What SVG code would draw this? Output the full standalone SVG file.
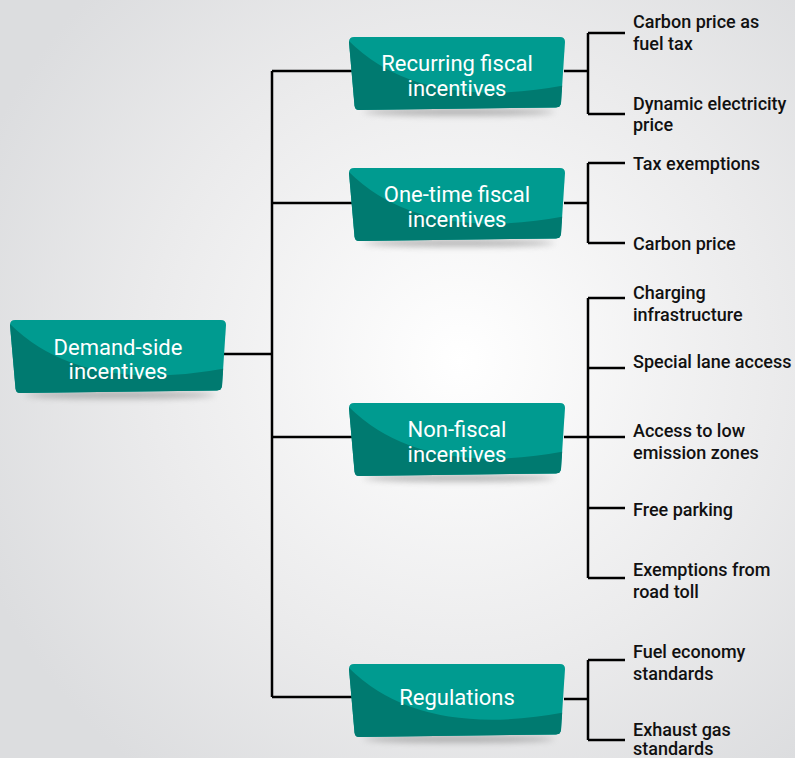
<svg xmlns="http://www.w3.org/2000/svg" width="795" height="758" viewBox="0 0 795 758">
<defs>
<radialGradient id="bg" cx="460" cy="360" r="520" gradientUnits="userSpaceOnUse">
<stop offset="0" stop-color="#ffffff"/>
<stop offset="0.6" stop-color="#ebebec"/>
<stop offset="1" stop-color="#dcdddf"/>
</radialGradient>
<filter id="blur" x="-20%" y="-200%" width="140%" height="500%"><feGaussianBlur stdDeviation="3"/></filter>
<clipPath id="nodeclip"><path d="M5,0 H211 Q216,0 216,5 L212,66 Q211.5,70 207,70.5 L10,73 Q6,73 5.5,68.5 L0,5 Q0,0 5,0 Z"/></clipPath>
<g id="nodeshape">
<ellipse cx="110" cy="75" rx="95" ry="3.5" fill="#7a7a7a" opacity="0.55" filter="url(#blur)"/>
<path d="M5,0 H211 Q216,0 216,5 L212,66 Q211.5,70 207,70.5 L10,73 Q6,73 5.5,68.5 L0,5 Q0,0 5,0 Z" fill="#009b90"/>
<path clip-path="url(#nodeclip)" d="M-2,2 Q70,76 218,48 L218,80 L-2,80 Z" fill="#007a70"/>
</g>
</defs>
<style>
.nt{font-family:Roboto,"Liberation Sans",Arial,sans-serif;font-weight:400;font-size:22px;fill:#ffffff;text-anchor:middle}
.lt{font-family:Roboto,"Liberation Sans",Arial,sans-serif;font-weight:500;font-size:18px;fill:#111111}
.cn{fill:none;stroke:#000000;stroke-width:2.5}
</style>
<rect width="795" height="758" fill="url(#bg)"/>
<g id="connectors">
<path class="cn" d="M224,354 H272 M272,71 V697 M272,71 H352 M272,203 H352 M272,437 H352 M272,697 H352"/>
<path class="cn" d="M564,71 H588 M588,33 V114 M588,33 H625 M588,114 H625"/>
<path class="cn" d="M564,203 H588 M588,163 V243 M588,163 H625 M588,243 H625"/>
<path class="cn" d="M564,437 H588 M588,298 V578 M588,298 H625 M588,368 H625 M588,437 H625 M588,508 H625 M588,578 H625"/>
<path class="cn" d="M564,699 H588 M588,660 V740 M588,660 H625 M588,740 H625"/>
</g>
<g id="root">
<use href="#nodeshape" x="10" y="320"/>
<text class="nt" x="118" y="355">Demand-side</text>
<text class="nt" x="118" y="379">incentives</text>
</g>
<g id="recurring">
<use href="#nodeshape" x="349" y="37"/>
<text class="nt" x="457" y="71">Recurring fiscal</text>
<text class="nt" x="457" y="96">incentives</text>
</g>
<g id="onetime">
<use href="#nodeshape" x="349" y="168"/>
<text class="nt" x="457" y="202">One-time fiscal</text>
<text class="nt" x="457" y="227">incentives</text>
</g>
<g id="nonfiscal">
<use href="#nodeshape" x="349" y="403"/>
<text class="nt" x="457" y="437">Non-fiscal</text>
<text class="nt" x="457" y="462">incentives</text>
</g>
<g id="regulations">
<use href="#nodeshape" x="349" y="664"/>
<text class="nt" x="457" y="705">Regulations</text>
</g>
<g id="leaf-carbon-fuel"><text class="lt" x="633" y="28">Carbon price as</text><text class="lt" x="633" y="50">fuel tax</text></g>
<g id="leaf-dynamic"><text class="lt" x="633" y="110">Dynamic electricity</text><text class="lt" x="633" y="131">price</text></g>
<g id="leaf-tax"><text class="lt" x="633" y="170">Tax exemptions</text></g>
<g id="leaf-carbon"><text class="lt" x="633" y="250">Carbon price</text></g>
<g id="leaf-charging"><text class="lt" x="633" y="299">Charging</text><text class="lt" x="633" y="321">infrastructure</text></g>
<g id="leaf-lane"><text class="lt" x="633" y="368">Special lane access</text></g>
<g id="leaf-lez"><text class="lt" x="633" y="437">Access to low</text><text class="lt" x="633" y="459">emission zones</text></g>
<g id="leaf-parking"><text class="lt" x="633" y="516">Free parking</text></g>
<g id="leaf-toll"><text class="lt" x="633" y="576">Exemptions from</text><text class="lt" x="633" y="598">road toll</text></g>
<g id="leaf-fuel"><text class="lt" x="633" y="658">Fuel economy</text><text class="lt" x="633" y="680">standards</text></g>
<g id="leaf-exhaust"><text class="lt" x="633" y="736">Exhaust gas</text><text class="lt" x="633" y="755">standards</text></g>
</svg>
